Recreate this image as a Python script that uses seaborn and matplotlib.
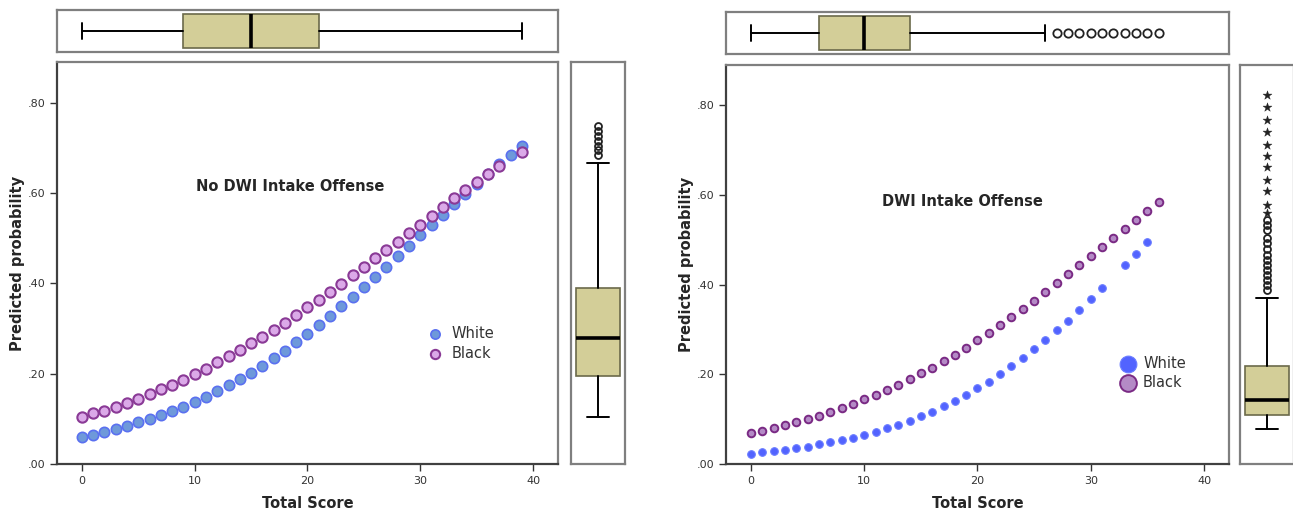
import matplotlib
matplotlib.use("Agg")
import matplotlib.pyplot as plt
import seaborn as sns
import pandas as pd
from matplotlib.ticker import FuncFormatter

# ---- data ----
# left panel: no DWI intake offense
score_white_no = list(range(40))
prob_white_no = [0.059, 0.064, 0.070, 0.077, 0.084, 0.092, 0.100, 0.109, 0.118, 0.127,
                 0.137, 0.149, 0.161, 0.174, 0.188, 0.202, 0.218, 0.234, 0.251, 0.270,
                 0.288, 0.308, 0.328, 0.349, 0.370, 0.392, 0.415, 0.437, 0.460, 0.483,
                 0.506, 0.529, 0.552, 0.575, 0.597, 0.620, 0.641, 0.664, 0.684, 0.703]
score_black_no = list(range(38)) + [39]
prob_black_no = [0.105, 0.112, 0.118, 0.127, 0.136, 0.145, 0.155, 0.166, 0.176, 0.187,
                 0.199, 0.211, 0.225, 0.238, 0.252, 0.267, 0.282, 0.297, 0.313, 0.330,
                 0.347, 0.364, 0.381, 0.399, 0.418, 0.436, 0.455, 0.474, 0.492, 0.512,
                 0.530, 0.550, 0.568, 0.588, 0.606, 0.624, 0.641, 0.659, 0.691]

# right panel: DWI intake offense
score_white_dwi = list(range(32)) + [33, 34, 35]
prob_white_dwi = [0.023, 0.026, 0.029, 0.032, 0.035, 0.039, 0.044, 0.049, 0.053, 0.059,
                  0.065, 0.072, 0.080, 0.088, 0.097, 0.107, 0.117, 0.129, 0.141, 0.154,
                  0.169, 0.184, 0.200, 0.218, 0.236, 0.256, 0.277, 0.298, 0.320, 0.343,
                  0.367, 0.393, 0.443, 0.469, 0.495]
score_black_dwi = list(range(37))
prob_black_dwi = [0.069, 0.074, 0.080, 0.086, 0.093, 0.100, 0.108, 0.116, 0.125, 0.134,
                  0.144, 0.154, 0.166, 0.177, 0.189, 0.203, 0.215, 0.230, 0.244, 0.259,
                  0.276, 0.292, 0.310, 0.327, 0.345, 0.364, 0.383, 0.403, 0.423, 0.443,
                  0.463, 0.483, 0.504, 0.524, 0.544, 0.565, 0.584]

# marginal box plots (five-number summaries + outliers)
score_box_no = dict(whislo=0, q1=9, med=15, q3=21, whishi=39, fliers=[])
score_box_dwi = dict(whislo=0, q1=6, med=10, q3=14, whishi=26,
                     fliers=[27, 28, 29, 30, 31, 32, 33, 34, 35, 36])
prob_box_no = dict(whislo=0.1035, q1=0.195, med=0.279, q3=0.389, whishi=0.667,
                   fliers=[0.685, 0.695, 0.705, 0.715, 0.727, 0.737, 0.748])
prob_box_dwi = dict(whislo=0.078, q1=0.110, med=0.142, q3=0.2175, whishi=0.370,
                    fliers=[0.388, 0.399, 0.411, 0.422, 0.433, 0.444, 0.455, 0.467,
                            0.479, 0.492, 0.503, 0.522, 0.533, 0.545])
prob_extreme_dwi = [0.560, 0.578, 0.608, 0.633, 0.663, 0.686, 0.712, 0.741,
                    0.767, 0.796, 0.822]

panel_titles = ["No DWI Intake Offense", "DWI Intake Offense"]
legend_labels = ["White", "Black"]

sns.set_style("white")
plt.rcParams['font.family'] = ['DejaVu Sans']

W, H = 1293, 514
fig = plt.figure(figsize=(W / 100, H / 100), dpi=100)


def px_axes(x0, y0, x1, y1):
    return fig.add_axes([x0 / W, 1 - y1 / H, (x1 - x0) / W, (y1 - y0) / H])


box_fill = "#d3ce98"
box_edge = "#6b6a4a"
frame_col = "#7f7f7f"
XLIM = (-2.2, 42.2)
YLIM = (0, 0.89)


def frame(ax, lw=1.6):
    for s in ax.spines.values():
        s.set_color(frame_col)
        s.set_linewidth(lw)
        s.set_visible(True)


def draw_box(ax, stats, horizontal, flier_size=5.5):
    ax.bxp([stats], orientation="horizontal" if horizontal else "vertical",
           positions=[0.5], widths=0.82, capwidths=0.4, patch_artist=True,
           boxprops=dict(facecolor=box_fill, edgecolor=box_edge, linewidth=1.2),
           medianprops=dict(color="black", linewidth=2.6),
           whiskerprops=dict(color="black", linewidth=1.4),
           capprops=dict(color="black", linewidth=1.4),
           flierprops=dict(marker="o", markerfacecolor="none", markeredgecolor="#222222",
                           markeredgewidth=1.3, markersize=flier_size))
    if horizontal:
        ax.set_ylim(0, 1)
        ax.set_xlim(*XLIM)
    else:
        ax.set_xlim(0, 1)
        ax.set_ylim(*YLIM)
    ax.set_xticks([])
    ax.set_yticks([])
    frame(ax)


def style_main(ax):
    ax.set_xlim(*XLIM)
    ax.set_ylim(*YLIM)
    ax.set_xticks([0, 10, 20, 30, 40])
    ax.set_yticks([0, 0.2, 0.4, 0.6, 0.8])
    ax.yaxis.set_major_formatter(FuncFormatter(lambda v, p: f"{v:.2f}"[1:]))
    ax.tick_params(axis="both", which="major", direction="out", length=5, width=1,
                   color="#333333", labelsize=8, labelcolor="#333333",
                   left=True, bottom=True)
    frame(ax)
    ax.spines["left"].set_color("#404040")
    ax.spines["bottom"].set_color("#404040")
    ax.set_xlabel("Total Score", fontsize=10.5, fontweight="bold", labelpad=7)
    ax.set_ylabel("Predicted probability", fontsize=10.5, fontweight="bold", labelpad=2)


# ---------------- left panel ----------------
ax1 = px_axes(57, 62, 558, 464)
df_w = pd.DataFrame({"score": score_white_no, "prob": prob_white_no})
df_b = pd.DataFrame({"score": score_black_no, "prob": prob_black_no})
sns.scatterplot(data=df_w, x="score", y="prob", ax=ax1, s=55, color="#6e99da",
                edgecolor="#5a70f0", linewidth=1.2, label=legend_labels[0], zorder=3)
sns.scatterplot(data=df_b, x="score", y="prob", ax=ax1, s=55, color="#dba9e8",
                edgecolor="#8a3a96", linewidth=1.5, label=legend_labels[1], zorder=3)
style_main(ax1)
ax1.text(0.465, 0.69, panel_titles[0], transform=ax1.transAxes, ha="center",
         va="center", fontsize=10.5, fontweight="bold")
leg1 = ax1.legend(loc="center left", bbox_to_anchor=(0.70, 0.30), frameon=False,
                  fontsize=10.5, handletextpad=0.1, labelspacing=0.3, markerscale=0.9)
for t in leg1.get_texts():
    t.set_color("#333333")

axt1 = px_axes(57, 10, 558, 52)
draw_box(axt1, score_box_no, horizontal=True)
axr1 = px_axes(571, 62, 625, 464)
draw_box(axr1, prob_box_no, horizontal=False, flier_size=5)

# ---------------- right panel ----------------
ax2 = px_axes(726, 65, 1229, 464)
df_w2 = pd.DataFrame({"score": score_white_dwi, "prob": prob_white_dwi})
df_b2 = pd.DataFrame({"score": score_black_dwi, "prob": prob_black_dwi})
sns.scatterplot(data=df_w2, x="score", y="prob", ax=ax2, s=30, color="#5263ff",
                edgecolor="#6a7cff", linewidth=0.8, label=legend_labels[0], zorder=3)
sns.scatterplot(data=df_b2, x="score", y="prob", ax=ax2, s=30, color="#b48ac6",
                edgecolor="#7a2a84", linewidth=1.4, label=legend_labels[1], zorder=3)
style_main(ax2)
ax2.text(0.471, 0.659, panel_titles[1], transform=ax2.transAxes, ha="center",
         va="center", fontsize=10.5, fontweight="bold")
leg2 = ax2.legend(loc="center left", bbox_to_anchor=(0.745, 0.228), frameon=False,
                  fontsize=10.5, handletextpad=0.0, labelspacing=0.25, markerscale=2.2)
for t in leg2.get_texts():
    t.set_color("#333333")

axt2 = px_axes(726, 12, 1229, 54)
draw_box(axt2, score_box_dwi, horizontal=True, flier_size=6)
axr2 = px_axes(1240, 65, 1294, 464)
draw_box(axr2, prob_box_dwi, horizontal=False, flier_size=5)
df_ext = pd.DataFrame({"pos": [0.5] * len(prob_extreme_dwi), "prob": prob_extreme_dwi})
sns.scatterplot(data=df_ext, x="pos", y="prob", ax=axr2, marker="*", s=45,
                color="#222222", edgecolor="#222222", linewidth=0.3, zorder=4)
axr2.set_xlim(0, 1)
axr2.set_xlabel("")
axr2.set_ylabel("")
axr2.set_xticks([])
axr2.set_yticks([])

fig.savefig("out.png", dpi=100)
